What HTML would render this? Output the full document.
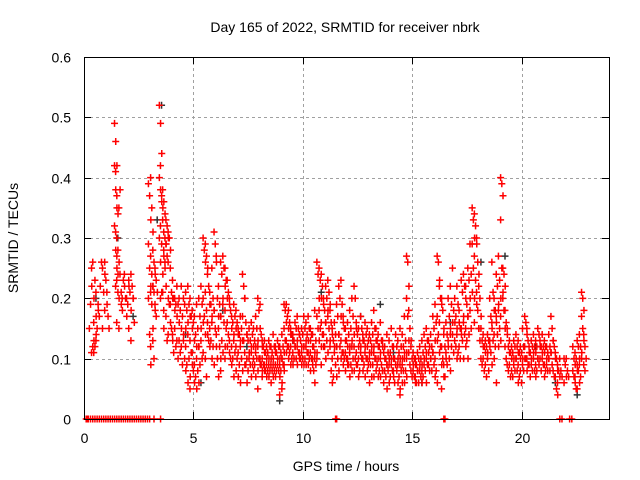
<!DOCTYPE html>
<html><head><meta charset="utf-8"><style>
html,body{margin:0;padding:0;background:#fff;}
svg{display:block;font-family:"Liberation Sans",sans-serif;}
</style></head><body>
<svg id="chart" width="640" height="480" viewBox="0 0 640 480">
<rect width="640" height="480" fill="#fff"/>
<text x="345" y="32" font-size="14" text-anchor="middle">Day 165 of 2022, SRMTID for receiver nbrk</text>
<text x="346" y="471" font-size="14" text-anchor="middle">GPS time / hours</text>
<text transform="translate(18,238) rotate(-90)" font-size="14" text-anchor="middle">SRMTID / TECUs</text>
<g id="grid"></g><g id="ticks"></g><g id="marks"></g>
<rect x="84.5" y="57.5" width="525" height="362" fill="none" stroke="#000" stroke-width="1"/>
</svg>
<script>
const xTicks=[0,5,10,15,20];
const yTicks=[0,0.1,0.2,0.3,0.4,0.5,0.6];
const yTickLabels=["0","0.1","0.2","0.3","0.4","0.5","0.6"];
const groupTimes=[0.3,0.4,0.5,0.6,0.7,0.8,0.9,1.0,1.1,1.2,1.45,1.5,1.55,1.65,1.7,1.8,1.9,2.0,2.1,2.2,2.3,3.0,3.1,3.2,3.3,3.5,3.55,3.65,3.7,3.8,3.9,4.0,4.1,4.2,4.3,4.4,4.5,4.6,4.7,4.8,4.9,5.0,5.1,5.2,5.3,5.4,5.5,5.6,5.7,5.8,5.9,6.0,6.1,6.2,6.3,6.4,6.5,6.6,6.7,6.8,6.9,7.0,7.1,7.2,7.3,7.4,7.5,7.6,7.7,7.8,7.9,8.0,8.1,8.2,8.3,8.4,8.5,8.6,8.7,8.8,8.9,9.0,9.1,9.2,9.3,9.4,9.5,9.6,9.7,9.8,9.9,10.0,10.1,10.2,10.3,10.4,10.5,10.6,10.7,10.8,10.9,11.0,11.1,11.2,11.3,11.4,11.5,11.6,11.7,11.8,11.9,12.0,12.1,12.2,12.3,12.4,12.5,12.6,12.7,12.8,12.9,13.0,13.1,13.2,13.3,13.4,13.5,13.6,13.7,13.8,13.9,14.0,14.1,14.2,14.3,14.4,14.5,14.6,14.7,14.8,14.9,15.0,15.1,15.2,15.3,15.4,15.5,15.6,15.7,15.8,15.9,16.0,16.1,16.2,16.3,16.4,16.5,16.6,16.7,16.8,16.9,17.0,17.1,17.2,17.3,17.4,17.5,17.6,17.7,17.8,17.9,18.0,18.1,18.2,18.3,18.4,18.5,18.6,18.7,18.8,18.9,19.0,19.1,19.2,19.3,19.4,19.5,19.6,19.7,19.8,19.9,20.0,20.1,20.2,20.3,20.4,20.5,20.6,20.7,20.8,20.9,21.0,21.1,21.2,21.3,21.4,21.5,21.6,21.7,21.8,22.0,22.1,22.4,22.5,22.6,22.7,22.8,22.9];
const groupValues=[
[0.15,0.19,0.22],[0.11,0.12,0.13,0.25,0.26,0.2],[0.11,0.12,0.14,0.16,0.23,0.17],[0.13,0.15,0.18,0.21],[0.19,0.17],[0.22,0.26],[0.25,0.21,0.24,0.15],[0.26,0.23,0.19,0.18],[0.21,0.17],[0.15],
[0.49,0.46,0.42,0.42,0.38,0.35,0.32,0.28,0.25],[0.41,0.37,0.34,0.31,0.27,0.24,0.22],[0.3,0.28,0.26,0.23,0.21,0.2,0.16],[0.35,0.38,0.19,0.15],[0.24,0.21,0.18],[0.2,0.23,0.22],[0.24,0.2,0.17],[0.2,0.19,0.22],[0.23,0.21,0.18,0.15],[0.24,0.22,0.2,0.13],[0.2,0.16],
[0.39,0.37,0.33,0.29,0.25,0.22,0.2,0.14,0.09],[0.4,0.35,0.31,0.27,0.24,0.22,0.21,0.19,0.15,0.12],[0.28,0.26,0.24,0.22,0.21,0.18,0.13,0.1],[0.25,0.23,0.21,0.19,0.17],[0.52,0.49,0.44,0.4,0.38,0.36,0.3,0.26,0.21],[0.42,0.37,0.35,0.32,0.29,0.24,0.2],[0.38,0.36,0.34,0.33,0.27,0.25,0.21,0.15],[0.31,0.3,0.29,0.28,0.26,0.22,0.18],[0.33,0.32,0.3,0.29,0.27,0.2,0.17,0.13],[0.31,0.3,0.28,0.26,0.19,0.16,0.14],
[0.25,0.21,0.2,0.19,0.15,0.13],[0.23,0.2,0.18,0.14,0.11],[0.2,0.19,0.17,0.15,0.12],[0.22,0.19,0.16,0.13,0.1],[0.2,0.18,0.15,0.13,0.11],[0.22,0.17,0.14,0.12,0.09],[0.2,0.19,0.15,0.13,0.1,0.08],[0.21,0.18,0.16,0.12,0.09,0.06],[0.22,0.19,0.17,0.14,0.1,0.07],[0.2,0.17,0.15,0.13,0.11,0.09,0.05],
[0.18,0.16,0.13,0.11,0.08,0.06],[0.17,0.14,0.12,0.09,0.07,0.05],[0.19,0.15,0.12,0.1,0.08,0.06],[0.2,0.17,0.15,0.12,0.09],[0.22,0.19,0.16,0.13,0.1],[0.3,0.28,0.26,0.2,0.17,0.14,0.11],[0.29,0.27,0.25,0.21,0.18,0.14,0.1,0.07],[0.24,0.22,0.19,0.16,0.13,0.12],[0.21,0.19,0.17,0.15,0.13,0.1],[0.25,0.2,0.18,0.16,0.12,0.09],
[0.31,0.29,0.26,0.18,0.15,0.12],[0.27,0.2,0.17,0.14,0.1,0.07],[0.22,0.19,0.17,0.15,0.12,0.1],[0.26,0.24,0.2,0.17,0.13,0.11,0.08],[0.27,0.25,0.22,0.19,0.16,0.12],[0.25,0.23,0.2,0.18,0.15,0.12,0.1],[0.23,0.21,0.19,0.16,0.14,0.11],[0.2,0.18,0.15,0.13,0.1,0.09],[0.17,0.16,0.14,0.12,0.1,0.07],[0.19,0.17,0.15,0.13,0.11,0.08],
[0.18,0.16,0.14,0.12,0.1,0.07],[0.15,0.14,0.13,0.11,0.09,0.06],[0.17,0.15,0.13,0.12,0.1,0.08],[0.24,0.22,0.2,0.17,0.13,0.09],[0.2,0.16,0.14,0.11,0.09,0.06],[0.14,0.13,0.11,0.1,0.08],[0.15,0.13,0.12,0.1,0.09,0.07],[0.16,0.14,0.12,0.11,0.09,0.08],[0.15,0.13,0.12,0.1,0.09,0.07],[0.17,0.15,0.13,0.11,0.1,0.08],
[0.2,0.18,0.15,0.12,0.1,0.09,0.05],[0.19,0.14,0.12,0.1,0.09,0.08],[0.13,0.12,0.11,0.1,0.09,0.08,0.07],[0.13,0.11,0.1,0.09,0.08,0.07],[0.12,0.11,0.1,0.09,0.08,0.07],[0.13,0.12,0.1,0.09,0.08,0.06],[0.12,0.11,0.1,0.09,0.08,0.07],[0.14,0.12,0.11,0.09,0.08,0.07],[0.12,0.11,0.1,0.09,0.08],[0.13,0.12,0.1,0.09,0.08,0.07],
[0.12,0.11,0.1,0.09,0.08,0.06,0.04],[0.14,0.12,0.11,0.1,0.09,0.08,0.05],[0.19,0.18,0.16,0.15,0.13,0.11,0.09],[0.19,0.17,0.15,0.13,0.12,0.1],[0.18,0.16,0.14,0.12,0.11,0.09],[0.15,0.14,0.13,0.12,0.1,0.09],[0.14,0.13,0.12,0.11,0.1],[0.16,0.15,0.13,0.12,0.1,0.09],[0.17,0.15,0.14,0.12,0.11,0.1],[0.14,0.13,0.12,0.11,0.1,0.09],
[0.15,0.14,0.12,0.11,0.1,0.09],[0.17,0.15,0.13,0.12,0.1,0.09],[0.16,0.14,0.13,0.12,0.11,0.09],[0.17,0.15,0.13,0.11,0.1,0.08],[0.15,0.14,0.12,0.11,0.1,0.09],[0.14,0.12,0.11,0.1,0.08,0.06],[0.18,0.13,0.11,0.1,0.09],[0.26,0.24,0.2,0.17,0.15,0.13,0.1],[0.25,0.23,0.2,0.18,0.15,0.12],[0.24,0.22,0.19,0.16,0.14,0.12,0.09],
[0.2,0.18,0.16,0.14,0.12,0.1],[0.22,0.2,0.18,0.16,0.13,0.11],[0.23,0.21,0.19,0.17,0.15,0.13],[0.18,0.16,0.14,0.12,0.08,0.06],[0.15,0.13,0.12,0.1,0.07],[0.16,0.14,0.12,0.11,0.09,0.07],[0.19,0.17,0.14,0.12,0.1,0.08],[0.22,0.2,0.17,0.14,0.12,0.1],[0.23,0.19,0.16,0.13,0.11,0.09],[0.17,0.15,0.13,0.11,0.1,0.08],
[0.15,0.13,0.12,0.11,0.1,0.09],[0.16,0.14,0.12,0.1,0.09,0.07],[0.18,0.15,0.13,0.11,0.09,0.08],[0.2,0.17,0.14,0.12,0.1,0.08],[0.22,0.2,0.15,0.12,0.1,0.09],[0.16,0.14,0.12,0.11,0.09,0.07],[0.15,0.13,0.12,0.1,0.08],[0.17,0.15,0.13,0.11,0.1,0.08],[0.14,0.13,0.12,0.1,0.09,0.07],[0.16,0.14,0.12,0.11,0.1,0.08],
[0.15,0.13,0.11,0.1,0.09,0.06],[0.14,0.13,0.12,0.1,0.09,0.07],[0.16,0.14,0.12,0.11,0.09,0.07],[0.18,0.15,0.13,0.11,0.1,0.08],[0.15,0.13,0.12,0.1,0.09,0.07],[0.14,0.12,0.11,0.1,0.08,0.07],[0.16,0.13,0.12,0.1,0.09,0.08],[0.13,0.11,0.1,0.08,0.06],[0.12,0.1,0.09,0.08,0.07,0.05],[0.14,0.11,0.1,0.09,0.08,0.06],
[0.13,0.11,0.1,0.09,0.07],[0.15,0.12,0.1,0.09,0.08,0.07],[0.12,0.1,0.09,0.08,0.06],[0.14,0.12,0.1,0.09,0.08,0.06],[0.13,0.11,0.1,0.09,0.07,0.05],[0.15,0.12,0.1,0.09,0.08,0.06,0.04],[0.14,0.12,0.11,0.09,0.08,0.06],[0.17,0.13,0.11,0.1,0.08,0.07],[0.27,0.26,0.22,0.2,0.17,0.13,0.1],[0.18,0.15,0.13,0.11,0.09],
[0.12,0.1,0.09,0.08,0.07],[0.11,0.1,0.09,0.08,0.07,0.06],[0.1,0.09,0.08,0.07,0.06],[0.11,0.1,0.09,0.08,0.06],[0.12,0.1,0.09,0.08,0.07,0.06],[0.13,0.11,0.1,0.08,0.07],[0.14,0.12,0.11,0.09,0.08,0.06],[0.15,0.13,0.11,0.1,0.09],[0.13,0.12,0.1,0.09,0.08],[0.14,0.12,0.11,0.1,0.08],
[0.17,0.15,0.13,0.11,0.09,0.07],[0.19,0.16,0.13,0.1,0.08,0.06],[0.27,0.26,0.23,0.17,0.14,0.11],[0.22,0.2,0.19,0.16,0.12,0.09],[0.2,0.18,0.15,0.12,0.1,0.07,0.05],[0.14,0.12,0.1,0.09,0.07],[0.16,0.14,0.12,0.11,0.09],[0.2,0.17,0.15,0.13,0.1,0.08],[0.22,0.19,0.16,0.14,0.12],[0.25,0.18,0.16,0.14,0.11],
[0.2,0.17,0.15,0.13,0.12,0.1],[0.22,0.19,0.16,0.14,0.11],[0.18,0.15,0.14,0.12,0.1],[0.23,0.21,0.17,0.15,0.13,0.1],[0.24,0.22,0.2,0.16,0.14,0.12],[0.22,0.19,0.17,0.15,0.13,0.1],[0.25,0.23,0.2,0.17,0.14],[0.29,0.24,0.21,0.18,0.15],[0.35,0.33,0.3,0.29,0.25,0.2],[0.34,0.32,0.29,0.27,0.23,0.19,0.16],
[0.3,0.26,0.24,0.21,0.18,0.15],[0.22,0.2,0.17,0.15,0.13],[0.15,0.13,0.12,0.1,0.09],[0.14,0.12,0.11,0.1,0.08],[0.13,0.12,0.11,0.09,0.07],[0.14,0.13,0.12,0.1,0.08],[0.2,0.17,0.15,0.13,0.11,0.09],[0.26,0.21,0.18,0.16,0.13,0.1],[0.2,0.18,0.16,0.14,0.12,0.06],[0.24,0.22,0.19,0.17,0.14,0.12],
[0.27,0.23,0.2,0.18,0.15,0.13],[0.4,0.39,0.37,0.33,0.25,0.21,0.17],[0.25,0.24,0.22,0.2,0.18,0.15],[0.18,0.16,0.14,0.12,0.1],[0.15,0.12,0.11,0.09,0.08],[0.13,0.11,0.1,0.09,0.07],[0.12,0.11,0.1,0.08,0.07],[0.13,0.12,0.1,0.09,0.08],[0.14,0.12,0.11,0.1,0.08,0.06],[0.13,0.11,0.1,0.09,0.07],
[0.12,0.11,0.1,0.08,0.06],[0.15,0.12,0.1,0.09,0.08],[0.17,0.16,0.14,0.12,0.1,0.08],[0.15,0.13,0.11,0.1,0.09],[0.12,0.11,0.1,0.09,0.07],[0.13,0.12,0.11,0.09,0.08],[0.14,0.12,0.11,0.1,0.08,0.07],[0.13,0.12,0.1,0.09,0.08],[0.15,0.14,0.12,0.1,0.09],[0.13,0.12,0.11,0.1,0.08],
[0.14,0.12,0.11,0.1,0.09,0.07],[0.13,0.12,0.1,0.09,0.08],[0.12,0.11,0.1,0.09,0.08],[0.14,0.12,0.11,0.1,0.08],[0.17,0.15,0.13,0.11,0.09],[0.13,0.12,0.1,0.08,0.07],[0.11,0.1,0.08,0.07,0.05,0.04],[0.09,0.08,0.07,0.06],[0.1,0.08,0.07],[0.1,0.09,0.07,0.06],[0.1,0.08,0.07],
[0.12,0.1,0.09,0.08,0.07,0.06],[0.11,0.1,0.08,0.07,0.05],[0.13,0.12,0.1,0.09,0.08,0.06,0.05],[0.14,0.12,0.11,0.09,0.07],[0.21,0.2,0.18,0.17,0.15,0.13,0.1],[0.14,0.12,0.1,0.09,0.08]
];
const blackTimes=[0.5,1.5,2.2,3.3,3.5,4.6,5.3,6.3,7.4,8.9,9.5,10.8,12.6,13.5,14.1,15.4,16.7,18.1,19.2,20.6,21.5,22.5];
const blackValues=[0.2,0.3,0.17,0.33,0.52,0.14,0.06,0.18,0.12,0.03,0.13,0.21,0.17,0.19,0.11,0.06,0.16,0.26,0.27,0.12,0.06,0.04];
const zeroTimes=[0.1,0.15,0.2,0.3,0.4,0.5,0.6,0.7,0.8,0.9,1.0,1.1,1.2,1.3,1.4,1.5,1.6,1.7,1.8,1.9,2.0,2.1,2.2,2.3,2.4,2.5,2.6,2.7,2.8,2.9,3.0,3.2,3.5,11.5,11.55,16.45,16.5,21.75,21.85,22.2,22.3];

const X0=84,X1=609,Y0=419,Y1=57,XMAX=24,YMAX=0.6;
const xs=h=>X0+(X1-X0)*h/XMAX;
const ys=v=>Y0-(Y0-Y1)*v/YMAX;
const NS="http://www.w3.org/2000/svg";
function mk(t,a,p){const e=document.createElementNS(NS,t);for(const k in a)e.setAttribute(k,a[k]);p.appendChild(e);return e;}
const grid=document.getElementById('grid'),ticks=document.getElementById('ticks'),marks=document.getElementById('marks');
xTicks.forEach(t=>{const x=Math.round(xs(t))+0.5;
 if(t>0&&t<XMAX){const g=mk('line',{x1:x,y1:Y0,x2:x,y2:Y1,stroke:'#a0a0a0','stroke-dasharray':'3,3'},grid);
 
 }
 mk('line',{x1:x,y1:Y0,x2:x,y2:Y0-7,stroke:'#000'},ticks);
 mk('line',{x1:x,y1:Y1,x2:x,y2:Y1+7,stroke:'#000'},ticks);
 const l=mk('text',{x:x,y:443,'font-size':14,'text-anchor':'middle'},ticks);l.textContent=String(t);
 
 
});
yTicks.forEach((t,i)=>{const y=Math.round(ys(t))+0.5;
 if(t>0&&t<YMAX){const g=mk('line',{x1:X0,y1:y,x2:X1,y2:y,stroke:'#a0a0a0','stroke-dasharray':'3,3'},grid);
 
 }
 mk('line',{x1:X0,y1:y,x2:X0+7,y2:y,stroke:'#000'},ticks);
 mk('line',{x1:X1,y1:y,x2:X1-7,y2:y,stroke:'#000'},ticks);
 const l=mk('text',{x:71,y:y+5,'font-size':14,'text-anchor':'end'},ticks);l.textContent=yTickLabels[i];
 
 
});
function plus(x,y,col,name){
 const p=mk('path',{d:`M${x-3.5},${y}h7M${x},${y-3.5}v7`,stroke:col,'stroke-width':1.5,fill:'none'},marks);
 
 }
blackTimes.forEach((t,i)=>plus(xs(t)+1,ys(blackValues[i]),'#333','point-black'));
groupTimes.forEach((t,g)=>{groupValues[g].forEach((v,i)=>{const off=((i%3)-1)*1.2;plus(xs(t)+off,ys(v),'#ff0000','point-srmtid');});});
zeroTimes.forEach(t=>plus(xs(t),ys(0),'#ff0000','point-zero'));
</script>
</body></html>
